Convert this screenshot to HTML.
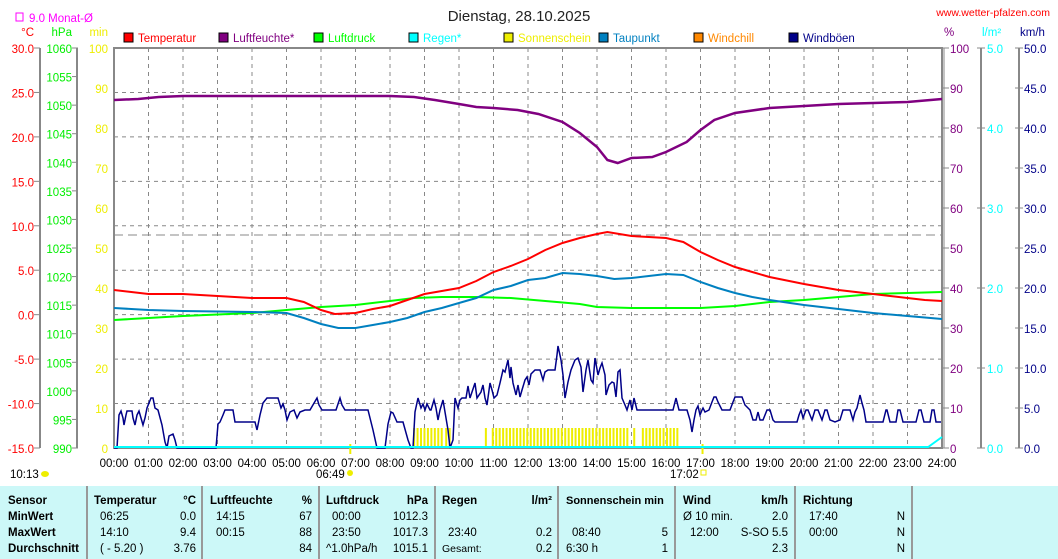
<!DOCTYPE html>
<html><head><meta charset="utf-8"><style>
html,body{margin:0;padding:0;background:#fff;}
body{width:1058px;height:559px;overflow:hidden;position:relative;font-family:"Liberation Sans",sans-serif;}
svg{position:absolute;left:0;top:0;}
</style></head><body>
<svg id="s" width="1058" height="559" xmlns="http://www.w3.org/2000/svg" font-family="Liberation Sans, sans-serif" font-size="11.5"></svg>
<script>
const S=document.getElementById('s');let h='';
const X0=114,X1=942,Y0=48,Y1=448;
const tx=t=>X0+t*34.5;
const tY=T=>Y0+(30-T)*8.889;
function txt(x,y,s,c,a,w,fs){h+=`<text x="${x}" y="${y}" fill="${c}" text-anchor="${a||'start'}" ${w?'font-weight="bold"':''} ${fs?`font-size="${fs}"`:''}>${s}</text>`;}
function ln(x1,y1,x2,y2,c,w,d){h+=`<line x1="${x1}" y1="${y1}" x2="${x2}" y2="${y2}" stroke="${c}" stroke-width="${w||1}" ${d?`stroke-dasharray="${d}"`:''}/>`;}
h+=`<rect x="0" y="486" width="1058" height="73" fill="#ccf8f8"/>`;
[87,202,319,435,558,675,795,912].forEach(x=>ln(x,486,x,559,'#999',2));
for(let i=1;i<24;i++)ln(tx(i),Y0,tx(i),Y1,'#888',1,'4,4');
for(let T=25;T>-15;T-=5)ln(X0,tY(T),X1,tY(T),'#888',1,'4,4');
ln(X0,235,X1,235,'#888',1,'9,5');
h+=`<rect x="${X0}" y="${Y0}" width="${X1-X0}" height="${Y1-Y0}" fill="none" stroke="#888" stroke-width="2"/>`;
ln(X1+2,Y0,X1+2,Y1,'#888',1);
ln(40,Y0,40,Y1,'#888',2);ln(77,Y0,77,Y1,'#888',2);ln(981,Y0,981,Y1,'#888',2);ln(1019,Y0,1019,Y1,'#888',2);
for(let i=0;i<=9;i++){let T=30-5*i,y=tY(T);ln(34,y,40,y,'#888');txt(34,y+5,T.toFixed(1),'#f00','end');}
for(let i=0;i<=14;i++){let p=1060-5*i,y=Y0+i*400/14;ln(72,y,78,y,'#888');txt(72,y+5,p,'#0e0','end');}
for(let i=0;i<=10;i++){let y=Y0+i*40;txt(108,y+5,100-10*i,'#ee0','end');
 ln(943,y,949,y,'#888');txt(950,y+5,100-10*i,'#800080');}
for(let i=0;i<=10;i+=2){let y=Y0+i*40;ln(977,y,985,y,'#888');txt(987,y+5,(5-i/2).toFixed(1),'#0ff');}
for(let i=0;i<=10;i++){let y=Y0+i*40;ln(1015,y,1023,y,'#888');txt(1024,y+5,(50-5*i).toFixed(1),'#008');}
txt(34,36,'°C','#f00','end');txt(72,36,'hPa','#0e0','end');txt(108,36,'min','#ee0','end');
txt(944,36,'%','#800080');txt(982,36,'l/m²','#0ff');txt(1020,36,'km/h','#008');
h+=`<rect x="16" y="13" width="7" height="8" fill="none" stroke="#f0f" stroke-width="1"/>`;txt(29,22,'9.0 Monat-Ø','#f0f');
txt(519,21,'Dienstag, 28.10.2025','#222','middle',0,15);
txt(1050,16,'www.wetter-pfalzen.com','#f00','end',0,10.5);
[['Temperatur','#f00'],['Luftfeuchte*','#800080'],['Luftdruck','#0f0'],['Regen*','#0ff'],['Sonnenschein','#ee0'],['Taupunkt','#0080c0'],['Windchill','#f80'],['Windböen','#008']].forEach((e,i)=>{let x=124+95*i;h+=`<rect x="${x}" y="33" width="9" height="9" fill="${e[1]}" stroke="#000"/>`;txt(x+14,42,e[0],e[1]);});
for(let i=0;i<=24;i++)txt(tx(i),467,String(i).padStart(2,'0')+':00','#000','middle');
txt(10,478,'10:13','#000');h+=`<ellipse cx="45" cy="474" rx="4" ry="3" fill="#ee0"/>`;
txt(316,478,'06:49','#000');h+=`<circle cx="350" cy="473" r="3" fill="#ee0"/>`;
txt(670,478,'17:02','#000');h+=`<rect x="701" y="470" width="5" height="5" fill="none" stroke="#ee0"/>`;
let sun=[[8.67,9.5],[9.6,9.75],[10.75,10.85],[10.95,14.85],[15.05,15.15],[15.3,16.4]];
sun.forEach(r=>{for(let t=r[0];t<r[1];t+=0.1)h+=`<rect x="${tx(t)}" y="428" width="2" height="20" fill="#ee0"/>`;});
h+=`<rect x="${tx(6.82)}" y="444" width="2" height="10" fill="#ee0"/><rect x="${tx(17.03)}" y="444" width="2" height="10" fill="#ee0"/>`;
const W="114,448 117,448 119,415 121,411 123,418 124,425 126,415 127,411 132,411 133,418 135,425 137,415 139,411 141,418 143,425 145,418 147,408 151,398 153,398 155,408 158,410 162,425 165,442 167,448 169,436 173,434 175,440 177,448 216,448 218,424 220,422 223,415 225,410 233,410 235,422 255,422 257,430 260,415 263,403 267,398 278,398 281,408 283,404 285,410 287,420 290,412 294,410 297,418 300,412 305,410 310,410 317,398 319,405 322,410 336,410 340,398 342,405 345,410 368,410 373,430 377,448 385,448 388,424 391,412 393,413 397,422 403,422 408,440 411,448 413,448 415,412 418,398 421,408 423,404 425,410 427,404 430,410 431,410 434,400 436,408 438,420 440,410 443,400 448,430 450,448 453,440 455,398 458,408 460,400 462,398 466,398 468,386 470,398 472,392 475,383 477,398 481,392 483,385 485,398 487,405 490,383 492,390 494,398 497,395 500,383 503,370 505,372 508,360 510,378 511,367 513,383 516,395 518,385 520,397 522,390 525,380 527,377 529,385 531,374 535,370 540,370 543,380 545,372 548,370 555,370 557,355 558,346 561,360 563,375 565,398 568,382 571,370 575,360 578,358 581,367 583,392 586,370 588,360 591,380 593,383 595,358 598,375 600,368 602,363 605,375 606,395 609,385 612,382 614,383 616,397 618,372 620,370 622,398 625,405 627,410 630,400 632,410 634,398 637,410 640,410 673,410 676,398 679,410 687,410 690,420 692,432 694,420 696,410 698,406 700,415 702,410 703,408 705,412 709,410 712,402 714,397 716,397 718,402 722,410 730,410 733,402 735,397 742,397 745,405 750,410 753,420 756,420 758,412 760,420 763,420 767,410 770,410 773,420 775,422 797,422 799,415 801,410 803,418 806,410 808,410 812,420 815,410 818,410 822,420 825,410 827,410 830,420 835,422 840,420 843,410 850,410 853,420 855,412 857,408 860,395 862,403 864,410 866,422 883,422 886,410 887,410 890,422 896,422 898,410 900,410 903,422 916,422 919,410 921,410 924,422 930,422 932,410 934,410 936,422 941,422";
h+=`<polyline points="${W}" fill="none" stroke="#008" stroke-width="1.5"/>`;
h+=`<polyline points="${X0},447 ${tx(23.6)},447 ${tx(23.8)},442 ${tx(24)},437" fill="none" stroke="#0ff" stroke-width="2"/>`;
function series(pts,c,w){let a=pts.map(p=>tx(p[0]).toFixed(1)+','+p[1]).join(' ');h+=`<polyline points="${a}" fill="none" stroke="${c}" stroke-width="${w}"/>`;}
series([[0,100],[0.7,99],[1.3,97],[2,96],[8,96],[8.7,97],[9.3,100],[10,104],[10.5,107],[11,108],[11.7,110],[12.3,114],[13,122],[13.5,133],[14,147],[14.3,160],[14.6,163],[15,158],[15.6,157],[16,152],[16.6,142],[17,130],[17.4,120],[18,113],[19,108],[20,106],[21,104],[22,103],[23,102],[24,99]],'#800080',2.5);
series([[0,320],[2,316],[4,313],[5,310],[6,307],[7,305],[8,301],[8.7,298],[9.5,297],[10.5,297],[11.5,298],[12.5,301],[13.5,304],[14,307],[15,308],[16,308],[17,308],[18,306],[19,302],[20,300],[21,297],[22,294],[23,293],[24,292]],'#0f0',2);
series([[0,308],[1,310],[2,311],[4,312],[5,313],[5.5,318],[6,324],[6.5,328],[7,328],[7.5,325],[8,322],[8.5,318],[9,312],[9.5,308],[10,303],[10.5,298],[11,290],[11.5,286],[12,280],[12.5,278],[13,273],[13.5,274],[14,276],[14.5,279],[15,278],[15.5,276],[16,274],[16.5,275],[17,282],[17.5,288],[18,293],[18.5,297],[19,300],[20,305],[21,309],[22,313],[23,316],[24,319]],'#0080c0',2);
series([[0,290],[0.5,292],[1,294],[2,294],[3,296],[4,298],[5,298],[5.5,302],[6,310],[6.4,314],[7,313],[7.5,309],[8,306],[8.5,300],[9,294],[9.5,291],[10,288],[10.5,281],[11,272],[11.5,266],[12,259],[12.5,250],[13,243],[13.5,238],[14,234],[14.3,232],[15,236],[15.5,237],[16,238],[16.5,242],[17,252],[17.5,260],[18,267],[18.5,272],[19,277],[20,284],[21,290],[22,294],[23,298],[23.5,300],[24,301]],'#f00',2);
const R=[500,516,532,548];
txt(8,R[0]+4,'Sensor','#000','start',1);txt(8,R[1]+4,'MinWert','#000','start',1);txt(8,R[2]+4,'MaxWert','#000','start',1);txt(8,R[3]+4,'Durchschnitt','#000','start',1);
txt(94,R[0]+4,'Temperatur','#000','start',1);txt(196,R[0]+4,'°C','#000','end',1);
txt(100,R[1]+4,'06:25','#000');txt(196,R[1]+4,'0.0','#000','end');
txt(100,R[2]+4,'14:10','#000');txt(196,R[2]+4,'9.4','#000','end');
txt(100,R[3]+4,'( - 5.20 )','#000');txt(196,R[3]+4,'3.76','#000','end');
txt(210,R[0]+4,'Luftfeuchte','#000','start',1);txt(312,R[0]+4,'%','#000','end',1);
txt(216,R[1]+4,'14:15','#000');txt(312,R[1]+4,'67','#000','end');
txt(216,R[2]+4,'00:15','#000');txt(312,R[2]+4,'88','#000','end');txt(312,R[3]+4,'84','#000','end');
txt(326,R[0]+4,'Luftdruck','#000','start',1);txt(428,R[0]+4,'hPa','#000','end',1);
txt(332,R[1]+4,'00:00','#000');txt(428,R[1]+4,'1012.3','#000','end');
txt(332,R[2]+4,'23:50','#000');txt(428,R[2]+4,'1017.3','#000','end');
txt(326,R[3]+4,'^1.0hPa/h','#000');txt(428,R[3]+4,'1015.1','#000','end');
txt(442,R[0]+4,'Regen','#000','start',1);txt(552,R[0]+4,'l/m²','#000','end',1);
txt(448,R[2]+4,'23:40','#000');txt(552,R[2]+4,'0.2','#000','end');
txt(442,R[3]+4,'Gesamt:','#000','start',0,10.5);txt(552,R[3]+4,'0.2','#000','end');
txt(566,R[0]+4,'Sonnenschein min','#000','start',1,11);
txt(572,R[2]+4,'08:40','#000');txt(668,R[2]+4,'5','#000','end');
txt(566,R[3]+4,'6:30 h','#000');txt(668,R[3]+4,'1','#000','end');
txt(683,R[0]+4,'Wind','#000','start',1);txt(788,R[0]+4,'km/h','#000','end',1);
txt(683,R[1]+4,'Ø 10 min.','#000');txt(788,R[1]+4,'2.0','#000','end');
txt(690,R[2]+4,'12:00','#000');txt(788,R[2]+4,'S-SO 5.5','#000','end');txt(788,R[3]+4,'2.3','#000','end');
txt(803,R[0]+4,'Richtung','#000','start',1);
txt(809,R[1]+4,'17:40','#000');txt(905,R[1]+4,'N','#000','end');
txt(809,R[2]+4,'00:00','#000');txt(905,R[2]+4,'N','#000','end');txt(905,R[3]+4,'N','#000','end');
S.innerHTML=h;
</script>
</body></html>
